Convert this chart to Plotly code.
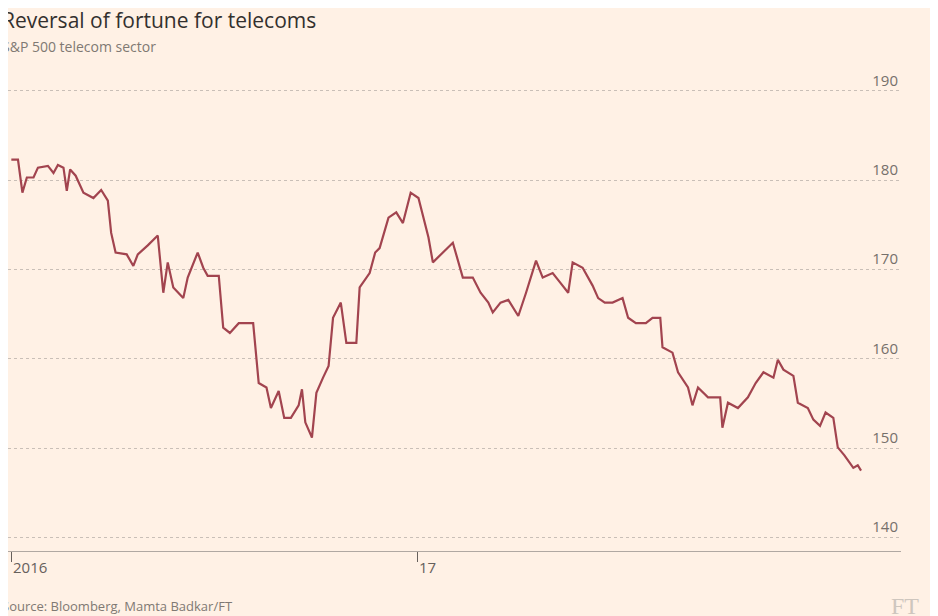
import pandas as pd
import plotly.graph_objects as go

days = [0,6,10,14,20,24,33,38,42,47,50,53,58,65,74,81,87,90,94,104,110,114,123,132,137,141,146,155,159,168,173,177,187,191,197,205,218,223,230,234,241,246,252,259,262,265,271,275,281,286,290,297,302,311,314,323,328,332,340,347,353,360,367,376,380,389,398,407,416,423,430,434,441,448,457,464,473,479,488,495,502,506,515,524,529,535,542,551,556,563,572,578,585,587,596,601,610,614,619,628,639,641,646,655,664,671,678,687,691,696,705,709,718,723,729,734,741,745,751,759,763,766]
values = [182.3,182.3,178.6,180.3,180.3,181.4,181.6,180.8,181.7,181.4,178.8,181.2,180.5,178.6,178.0,178.9,177.7,174.1,171.9,171.7,170.4,171.7,172.7,173.8,167.4,170.8,168.0,166.8,169.1,171.9,170.2,169.3,169.3,163.5,162.9,164.0,164.0,157.3,156.8,154.5,156.4,153.4,153.4,154.8,156.6,152.9,151.2,156.2,157.9,159.2,164.6,166.3,161.8,161.8,168.0,169.6,171.9,172.4,175.8,176.4,175.2,178.6,178.0,173.6,170.8,171.9,173.0,169.1,169.1,167.4,166.3,165.2,166.3,166.6,164.8,167.4,171.0,169.1,169.6,168.5,167.4,170.8,170.2,168.2,166.8,166.3,166.3,166.8,164.6,164.0,164.0,164.6,164.6,161.3,160.7,158.5,156.8,154.8,156.8,155.7,155.7,152.3,155.1,154.5,155.7,157.3,158.5,157.9,159.9,158.8,158.1,155.1,154.5,153.2,152.5,154.0,153.4,150.1,149.2,147.8,148.1,147.5]
y_ticks = [140,150,160,170,180,190]
x_ticks = ["2016-01-01","2017-01-01"]
x_tick_labels = ["2016","17"]

start = pd.Timestamp("2016-01-01")
dates = [start + pd.Timedelta(days=d) for d in days]

bg = "#FFF1E5"
fig = go.Figure(go.Scatter(x=dates, y=values, mode="lines",
                           line=dict(color="#A2444F", width=2.2), hoverinfo="skip"))

fig.update_layout(
    width=938, height=616, paper_bgcolor=bg, plot_bgcolor=bg,
    margin=dict(l=0, r=45, t=56, b=73), showlegend=False,
    font=dict(family="Open Sans, sans-serif", color="#66605C"),
)
fig.update_xaxes(range=[start - pd.Timedelta(days=3), start + pd.Timedelta(days=802)],
                 tickvals=x_ticks, ticktext=x_tick_labels, showticklabels=False,
                 showgrid=False, showline=True, linecolor="#B0A8A2", linewidth=1,
                 ticks="outside", ticklen=10, tickcolor="#66605C", zeroline=False)
fig.update_yaxes(range=[138.5, 193.0], tickvals=y_ticks, side="right",
                 ticklabelposition="inside top", showgrid=True, gridcolor="#C9BFB7",
                 griddash="dot", gridwidth=1, zeroline=False, showline=False,
                 tickfont=dict(size=15, color="#76706B"))

for tv, tl in zip(x_ticks, x_tick_labels):
    fig.add_annotation(x=tv, y=0, yref="paper", text=tl, showarrow=False,
                       xanchor="left", yanchor="top", yshift=-4,
                       font=dict(size=15, color="#66605C"))

fig.add_annotation(x=0, y=1.0, xref="paper", yref="paper", xanchor="left", yanchor="bottom",
                   yshift=28, xshift=-8, text="Reversal of fortune for telecoms", showarrow=False,
                   font=dict(size=21, color="#33302E"))
fig.add_annotation(x=0, y=1.0, xref="paper", yref="paper", xanchor="left", yanchor="bottom",
                   yshift=6, xshift=-8, text="S&P 500 telecom sector", showarrow=False,
                   font=dict(size=14, color="#807973"))
fig.add_annotation(x=0, y=0, xref="paper", yref="paper", xanchor="left", yanchor="top",
                   yshift=-44, xshift=-8, text="Source: Bloomberg, Mamta Badkar/FT", showarrow=False,
                   font=dict(size=13, color="#807973"))
fig.add_annotation(x=1, y=0, xref="paper", yref="paper", xanchor="left", yanchor="top",
                   xshift=-12, yshift=-40, text="FT", showarrow=False,
                   font=dict(size=24, color="#CEC6BE", family="Liberation Serif, serif"))

fig.write_html("out.html")
